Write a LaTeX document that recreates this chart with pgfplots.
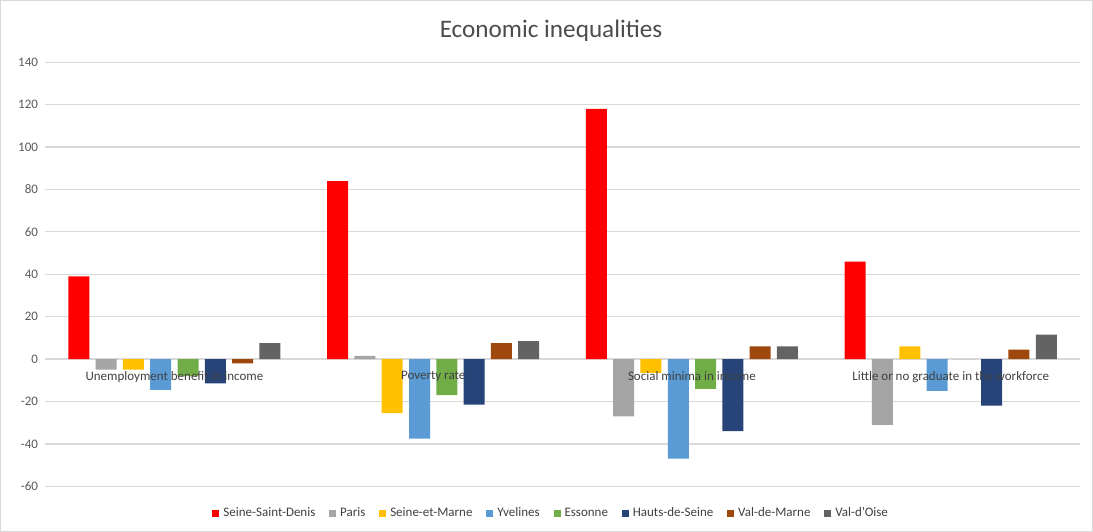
\documentclass[border=0pt]{standalone}
\usepackage{fontspec}
\setmainfont{Carlito}
\usepackage{pgfplots}
\pgfplotsset{compat=1.18}
\definecolor{cSSD}{HTML}{FF0000}
\definecolor{cPAR}{HTML}{A5A5A5}
\definecolor{cSEM}{HTML}{FFC000}
\definecolor{cYVE}{HTML}{5B9BD5}
\definecolor{cESS}{HTML}{70AD47}
\definecolor{cHDS}{HTML}{264478}
\definecolor{cVDM}{HTML}{9E480E}
\definecolor{cVDO}{HTML}{636363}
\begin{document}
\begin{tikzpicture}
\begin{axis}[
    set layers,
    scale only axis,
    width=517.5pt, height=212pt,
    ybar=3.15pt, bar width=10.5pt,
    xmin=-0.5, xmax=3.5, ymin=-60, ymax=140,
    ytick={-60,-40,...,140},
    xtick={0,1,2,3},
    xticklabels={Unemployment benefit in income, Poverty rate, Social minima in income, Little or no graduate in the workforce},
    major tick length=0pt,
    axis line style={draw=none},
    ymajorgrids,
    grid style={draw=black!15, line width=0.6pt},
    /pgf/number format/assume math mode=true,
    yticklabel style={font=\fontsize{6.5}{7}\selectfont, text=black!65},
    xticklabel style={font=\fontsize{6.5}{7}\selectfont, text=black!75, yshift=61pt,
        /pgfplots/on layer=axis foreground},
    clip=false,
    legend columns=8,
    legend style={draw=none, at={(0.49,-0.064)}, anchor=center,
        font=\fontsize{6.5}{7}\selectfont, text=black!75,
        /tikz/every even column/.append style={column sep=4.9pt}},
    legend image code/.code={\fill[#1] (0pt,-1.75pt) rectangle (3.5pt,1.75pt);},
]
\addplot[fill=cSSD, draw=none] coordinates {(0,39) (1,84) (2,118) (3,46)};
\addplot[fill=cPAR, draw=none] coordinates {(0,-5) (1,1.5) (2,-27) (3,-31)};
\addplot[fill=cSEM, draw=none] coordinates {(0,-5) (1,-25.5) (2,-6.5) (3,6)};
\addplot[fill=cYVE, draw=none] coordinates {(0,-14.5) (1,-37.5) (2,-47) (3,-15)};
\addplot[fill=cESS, draw=none] coordinates {(0,-8) (1,-17) (2,-14) (3,0)};
\addplot[fill=cHDS, draw=none] coordinates {(0,-11.5) (1,-21.5) (2,-34) (3,-22)};
\addplot[fill=cVDM, draw=none] coordinates {(0,-2) (1,7.5) (2,6) (3,4.5)};
\addplot[fill=cVDO, draw=none] coordinates {(0,7.5) (1,8.5) (2,6) (3,11.5)};
\legend{Seine-Saint-Denis, Paris, Seine-et-Marne, Yvelines, Essonne, Hauts-de-Seine, Val-de-Marne, Val-d'Oise}
\node[font=\fontsize{12.6}{14}\selectfont, text=black!70] at (rel axis cs:0.4889,1.0731) {Economic inequalities};
\draw[black!15, line width=0.5pt] (rel axis cs:-0.0430,-0.1055) rectangle (rel axis cs:1.0120,1.1457);
\end{axis}
\end{tikzpicture}
\end{document}
